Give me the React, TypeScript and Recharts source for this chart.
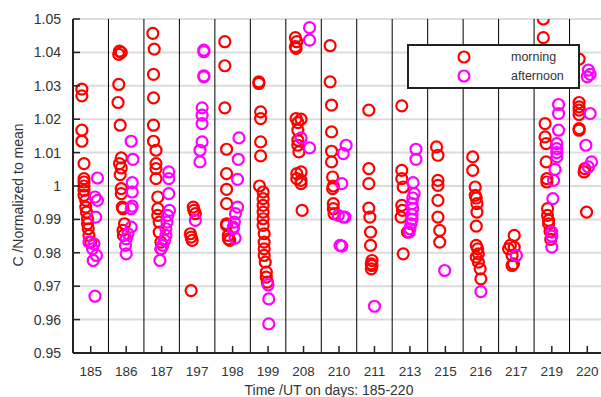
import { ScatterChart, Scatter, XAxis, YAxis, CartesianGrid, ReferenceLine, Legend } from 'recharts';

const days = ['185', '186', '187', '197', '198', '199', '208', '210', '211', '213', '215', '216', '217', '219', '220'];
const yTicks = [0.95, 0.96, 0.97, 0.98, 0.99, 1, 1.01, 1.02, 1.03, 1.04, 1.05];

// [day index, time offset within the day, normalized value]
const morning: [number, number, number][] = [
  [0, -0.25, 1.029], [0, -0.25, 1.027], [0, -0.25, 1.0167], [0, -0.25, 1.0134], [0, -0.19, 1.0067], [0, -0.19, 1.0022],
  [0, -0.19, 1.0012], [0, -0.19, 1.0], [0, -0.19, 0.9987], [0, -0.19, 0.9972], [0, -0.14, 0.9957], [0, -0.14, 0.9937],
  [0, -0.12, 0.9922], [0, -0.09, 0.9902], [0, -0.09, 0.9887], [0, -0.07, 0.9872], [0, -0.05, 0.9852], [0, 0, 0.9832],
  [1, -0.19, 1.0404], [1, -0.14, 1.04], [1, -0.21, 1.0394], [1, -0.21, 1.0304], [1, -0.23, 1.025], [1, -0.17, 1.0182],
  [1, -0.14, 1.0084], [1, -0.19, 1.0067], [1, -0.14, 1.0054], [1, -0.17, 1.0034], [1, -0.14, 0.9992], [1, -0.14, 0.9977],
  [1, -0.11, 0.9937], [1, -0.09, 0.9932], [1, -0.05, 0.9887], [1, -0.09, 0.9867], [1, -0.08, 0.9852],
  [2, -0.25, 1.0457], [2, -0.21, 1.041], [2, -0.23, 1.0334], [2, -0.23, 1.0264], [2, -0.23, 1.0182], [2, -0.23, 1.0134],
  [2, -0.16, 1.0107], [2, -0.16, 1.0067], [2, -0.16, 1.0052], [2, -0.16, 1.0022], [2, -0.11, 0.9967], [2, -0.11, 0.9932],
  [2, -0.11, 0.9912], [2, -0.07, 0.9892], [2, -0.07, 0.9862], [2, -0.02, 0.9832], [2, -0.02, 0.9812],
  [3, -0.11, 0.9937], [3, -0.09, 0.9927], [3, -0.05, 0.9917], [3, -0.19, 0.9857], [3, -0.17, 0.9847], [3, -0.14, 0.9837],
  [3, -0.17, 0.9687],
  [4, -0.22, 1.0432], [4, -0.22, 1.036], [4, -0.22, 1.0234], [4, -0.17, 1.011], [4, -0.17, 1.0037], [4, -0.17, 0.999],
  [4, -0.17, 0.9947], [4, -0.17, 0.9887], [4, -0.17, 0.9882], [4, -0.12, 0.9852], [4, -0.12, 0.9842], [4, -0.08, 0.9837],
  [5, -0.26, 1.0312], [5, -0.26, 1.0307], [5, -0.21, 1.0222], [5, -0.21, 1.0202], [5, -0.21, 1.0132], [5, -0.21, 1.009],
  [5, -0.24, 1.0], [5, -0.14, 0.9982], [5, -0.14, 0.9962], [5, -0.14, 0.9942], [5, -0.14, 0.9922], [5, -0.14, 0.9902],
  [5, -0.14, 0.9882], [5, -0.11, 0.9857], [5, -0.11, 0.9832], [5, -0.11, 0.9812], [5, -0.11, 0.9792], [5, -0.08, 0.9772],
  [5, -0.05, 0.9742], [5, -0.05, 0.9727], [5, -0.02, 0.9712],
  [6, -0.23, 1.0444], [6, -0.19, 1.0432], [6, -0.23, 1.0417], [6, -0.21, 1.0412], [6, -0.21, 1.0202], [6, -0.07, 1.02],
  [6, -0.16, 1.019], [6, -0.16, 1.0167], [6, -0.16, 1.0137], [6, -0.16, 1.0122], [6, -0.13, 1.0102], [6, -0.19, 1.0037],
  [6, -0.07, 1.0042], [6, -0.19, 1.0022], [6, -0.07, 1.0017], [6, -0.07, 1.0007], [6, -0.04, 0.9927],
  [7, -0.25, 1.042], [7, -0.25, 1.0312], [7, -0.21, 1.0242], [7, -0.21, 1.0162], [7, -0.21, 1.0104], [7, -0.21, 1.0072],
  [7, -0.18, 1.0027], [7, -0.16, 1.0], [7, -0.18, 0.9992], [7, -0.16, 0.9947], [7, -0.16, 0.9932], [7, -0.14, 0.9917],
  [8, -0.16, 1.0227], [8, -0.16, 1.0052], [8, -0.16, 1.0007], [8, -0.16, 0.9934], [8, -0.13, 0.9907], [8, -0.11, 0.9862],
  [8, -0.11, 0.9822], [8, -0.07, 0.9777], [8, -0.09, 0.9767], [8, -0.07, 0.9762], [8, -0.09, 0.9752],
  [9, -0.23, 1.024], [9, -0.23, 1.0047], [9, -0.23, 1.0022], [9, -0.19, 0.9997], [9, -0.23, 0.9942], [9, -0.21, 0.9927],
  [9, -0.25, 0.9907], [9, -0.07, 0.9862], [9, -0.19, 0.9797],
  [10, -0.25, 1.0117], [10, -0.21, 1.0092], [10, -0.21, 1.0017], [10, -0.21, 1.0002], [10, -0.21, 0.9957], [10, -0.21, 0.9907],
  [10, -0.16, 0.9867], [10, -0.16, 0.9832],
  [11, -0.23, 1.0087], [11, -0.23, 1.0047], [11, -0.16, 0.9997], [11, -0.16, 0.9972], [11, -0.13, 0.9964], [11, -0.11, 0.9947],
  [11, -0.11, 0.9922], [11, -0.13, 0.988], [11, -0.13, 0.9822], [11, -0.09, 0.9812], [11, -0.07, 0.9797], [11, -0.13, 0.9787],
  [11, -0.07, 0.9772], [11, -0.02, 0.9752], [11, 0, 0.9722],
  [12, -0.06, 0.9852], [12, -0.17, 0.9822], [12, -0.06, 0.9817], [12, -0.22, 0.9812], [12, -0.12, 0.9792], [12, -0.08, 0.9767],
  [12, -0.12, 0.9762],
  [13, -0.24, 1.05], [13, -0.24, 1.0444], [13, -0.19, 1.0187], [13, -0.19, 1.0147], [13, -0.16, 1.0127], [13, -0.16, 1.0072],
  [13, -0.14, 1.0022], [13, -0.14, 1.0012], [13, -0.12, 0.9932], [13, -0.12, 0.9912], [13, -0.09, 0.9897], [13, -0.09, 0.9887],
  [13, -0.05, 0.9864], [13, -0.03, 0.984],
  [14, -0.23, 1.038], [14, -0.23, 1.025], [14, -0.23, 1.0237], [14, -0.23, 1.0227], [14, -0.23, 1.0214], [14, -0.23, 1.0172],
  [14, -0.23, 1.0167], [14, -0.07, 1.0052], [14, -0.09, 1.0042], [14, -0.02, 0.9922],
];

const afternoon: [number, number, number][] = [
  [0, 0.19, 1.0024], [0, 0.12, 0.9967], [0, 0.19, 0.9957], [0, 0.14, 0.9907], [0, -0.05, 0.9832], [0, 0.09, 0.9827],
  [0, 0.05, 0.9812], [0, 0.16, 0.9792], [0, 0.07, 0.9777], [0, 0.12, 0.967],
  [1, 0.14, 1.0134], [1, 0.19, 1.008], [1, 0.17, 1.001], [1, 0.17, 0.9982], [1, 0.17, 0.994], [1, 0.14, 0.9932],
  [1, 0.14, 0.9877], [1, 0.05, 0.9857], [1, 0, 0.9842], [1, -0.02, 0.9822], [1, 0, 0.9797],
  [2, 0.2, 1.0042], [2, 0.2, 1.0022], [2, 0.2, 0.9977], [2, 0.22, 0.9927], [2, 0.17, 0.9912], [2, 0.15, 0.9892],
  [2, 0.12, 0.9872], [2, 0.12, 0.9852], [2, 0.08, 0.9837], [2, 0.03, 0.9822], [2, -0.02, 0.9812], [2, -0.05, 0.9777],
  [3, 0.19, 1.0407], [3, 0.19, 1.0402], [3, 0.19, 1.033], [3, 0.19, 1.0327], [3, 0.14, 1.0234], [3, 0.14, 1.0212],
  [3, 0.14, 1.0187], [3, 0.14, 1.0132], [3, 0.08, 1.0107], [3, 0.08, 1.0072], [3, -0.05, 0.9897],
  [4, 0.18, 1.0144], [4, 0.16, 1.008], [4, 0.14, 1.002], [4, 0.14, 0.9937], [4, 0.08, 0.9917], [4, 0.05, 0.9892],
  [4, 0.02, 0.9877], [4, 0.02, 0.9872], [4, 0.07, 0.9844],
  [5, 0, 0.9704], [5, 0.02, 0.9662], [5, 0.02, 0.9587],
  [6, 0.17, 1.0474], [6, 0.17, 1.0437], [6, -0.07, 1.0144], [6, 0.17, 1.0114],
  [7, 0.2, 1.0122], [7, 0.12, 1.0097], [7, 0.08, 1.0007], [7, -0.02, 0.9912], [7, 0.12, 0.9907], [7, 0.17, 0.9907],
  [7, 0.03, 0.9822], [7, 0.08, 0.982],
  [8, 0, 0.964],
  [9, 0.17, 1.011], [9, 0.17, 1.008], [9, 0.09, 1.001], [9, 0.12, 0.9977], [9, 0.08, 0.9964], [9, 0.06, 0.9947],
  [9, 0.08, 0.9932], [9, 0.06, 0.9914], [9, 0.06, 0.99], [9, 0.03, 0.9887], [9, 0, 0.9872], [9, -0.02, 0.9862],
  [10, -0.02, 0.9747],
  [11, 0, 0.9684],
  [12, 0, 0.9792],
  [13, 0.19, 1.0244], [13, 0.19, 1.0217], [13, 0.19, 1.0167], [13, 0.14, 1.0127], [13, 0.14, 1.0112], [13, 0.14, 1.01],
  [13, 0.14, 1.0087], [13, 0.09, 1.005], [13, 0.05, 1.0017], [13, 0.03, 0.9962], [13, 0, 0.9862], [13, 0, 0.985],
  [13, 0, 0.9817],
  [14, 0.03, 1.0347], [14, 0.08, 1.0334], [14, 0, 1.0327], [14, 0.08, 1.0217], [14, -0.04, 1.0122], [14, 0.12, 1.0072],
  [14, 0.03, 1.0057],
];

const toPoints = (rows: [number, number, number][]) => rows.map(([d, t, v]) => ({ x: d + t, y: v }));
const morningData = toPoints(morning);
const afternoonData = toPoints(afternoon);
const dayTicks = days.map((_, i) => i);
const separators = days.slice(1).map((_, i) => i + 0.5);

const FONT = '"Liberation Sans", Arial, sans-serif';
const TEXT = '#333';
const AXIS = '#222';
const RED = '#ff0000';
const MAGENTA = '#ff00ff';

const ring = (color: string) => (props: any) => (
  <circle cx={props.cx} cy={props.cy} r={5.5} fill="none" stroke={color} strokeWidth={2.2} />
);

const LeftTick = ({ x, y, payload }: any) => (
  <g>
    <line x1={x} x2={x + 7} y1={y} y2={y} stroke={AXIS} strokeWidth={1.5} />
    <text x={x - 12} y={y} dy="0.35em" textAnchor="end" fontSize={14} fontFamily={FONT} fill={TEXT}>
      {String(payload.value)}
    </text>
  </g>
);

const RightTick = ({ x, y }: any) => <line x1={x - 7} x2={x} y1={y} y2={y} stroke={AXIS} strokeWidth={1.5} />;

const BottomTick = ({ x, y, payload }: any) => (
  <g>
    <line x1={x} x2={x} y1={y} y2={y - 7} stroke={AXIS} strokeWidth={1.5} />
    <text x={x} y={y + 18} dy="0.35em" textAnchor="middle" fontSize={13.5} fontFamily={FONT} fill={TEXT}>
      {days[payload.value]}
    </text>
  </g>
);

const TopTick = ({ x, y }: any) => <line x1={x} x2={x} y1={y} y2={y + 6} stroke={AXIS} strokeWidth={1.5} />;

const XTitle = ({ viewBox }: any) => (
  <text x={329} y={viewBox.y + 37} dy="0.35em" textAnchor="middle" fontSize={14} fontFamily={FONT} fill={TEXT}>
    Time /UT on days: 185-220
  </text>
);

const YTitle = ({ viewBox }: any) => {
  const cx = 18;
  const cy = viewBox.y + viewBox.height / 2 + 9;
  return (
    <text x={cx} y={cy} dy="0.35em" textAnchor="middle" transform={`rotate(-90 ${cx} ${cy})`} fontSize={14} fontFamily={FONT} fill={TEXT}>
      C /Normalized to mean
    </text>
  );
};

const legendItems = [
  { name: 'morning', color: RED },
  { name: 'afternoon', color: MAGENTA },
];

const LegendBox = () => (
  <div
    style={{
      width: 173,
      height: 45,
      boxSizing: 'border-box',
      border: `2px solid ${AXIS}`,
      background: '#fff',
      position: 'relative',
      fontFamily: FONT,
      fontSize: 12.5,
      color: TEXT,
    }}
  >
    {legendItems.map((it, i) => (
      <div key={it.name} style={{ position: 'absolute', left: 0, top: 2 + i * 19, height: 18, width: '100%' }}>
        <svg width={16} height={16} style={{ position: 'absolute', left: 47, top: 1 }}>
          <circle cx={8} cy={8} r={5.5} fill="none" stroke={it.color} strokeWidth={2.2} />
        </svg>
        <span style={{ position: 'absolute', left: 102, top: 1, lineHeight: '16px' }}>{it.name}</span>
      </div>
    ))}
  </div>
);

export default function App() {
  return (
    <div style={{ position: 'absolute', left: 0, top: 0, width: 601, height: 397, overflow: 'hidden', background: '#fff' }}>
      <ScatterChart width={612} height={397} margin={{ top: 19, right: 7, bottom: 14, left: 13 }}>
        <CartesianGrid vertical={false} stroke="#dcdcdc" strokeWidth={2} />
        <XAxis
          type="number"
          dataKey="x"
          domain={[-0.5, 14.5]}
          ticks={dayTicks}
          allowDataOverflow
          height={30}
          tickSize={0}
          tickMargin={0}
          tick={<BottomTick />}
          axisLine={{ stroke: AXIS, strokeWidth: 2 }}
          label={<XTitle />}
        />
        <XAxis
          xAxisId="top"
          orientation="top"
          type="number"
          domain={[-0.5, 14.5]}
          ticks={dayTicks}
          allowDataOverflow
          height={0}
          tickSize={0}
          tickMargin={0}
          tick={<TopTick />}
          axisLine={{ stroke: AXIS, strokeWidth: 2 }}
        />
        <YAxis
          type="number"
          dataKey="y"
          domain={[0.95, 1.05]}
          ticks={yTicks}
          allowDataOverflow
          width={60}
          tickSize={0}
          tickMargin={0}
          tick={<LeftTick />}
          axisLine={{ stroke: AXIS, strokeWidth: 2 }}
          label={<YTitle />}
        />
        <YAxis
          yAxisId="right"
          orientation="right"
          type="number"
          domain={[0.95, 1.05]}
          ticks={yTicks}
          allowDataOverflow
          width={0}
          tickSize={0}
          tickMargin={0}
          tick={<RightTick />}
          axisLine={{ stroke: AXIS, strokeWidth: 2 }}
        />
        {separators.map((s) => (
          <ReferenceLine key={s} x={s} stroke="#000" strokeWidth={1} />
        ))}
        <Legend
          layout="vertical"
          align="center"
          verticalAlign="middle"
          content={<LegendBox />}
          wrapperStyle={{ left: 407, top: 44, width: 173, height: 45 }}
        />
        <Scatter name="morning" data={morningData} shape={ring(RED)} isAnimationActive={false} />
        <Scatter name="afternoon" data={afternoonData} shape={ring(MAGENTA)} isAnimationActive={false} />
      </ScatterChart>
    </div>
  );
}
